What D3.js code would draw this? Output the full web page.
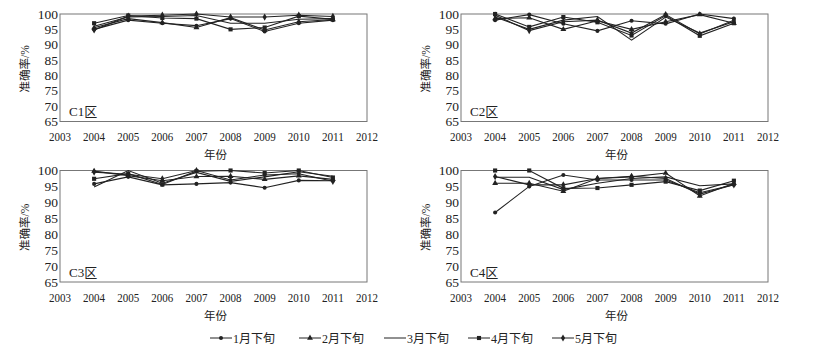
<!DOCTYPE html>
<html>
<head>
<meta charset="utf-8">
<script src="https://cdn.jsdelivr.net/npm/d3@7"></script>
<style>
  body { margin: 0; background: #fff; }
  text { font-family: "Liberation Serif", "Noto Sans CJK SC", serif; fill: #222; }
</style>
</head>
<body>
<svg id="chart" width="835" height="351"></svg>
<script>
let years = [2004, 2005, 2006, 2007, 2008, 2009, 2010, 2011]
let xTicks = [2003, 2004, 2005, 2006, 2007, 2008, 2009, 2010, 2011, 2012]
let yTicks = [65, 70, 75, 80, 85, 90, 95, 100]
let months = ["1月下旬", "2月下旬", "3月下旬", "4月下旬", "5月下旬"]
let regions = ["C1区", "C2区", "C3区", "C4区"]

// one row per month, one value per year
let c1 = [
  [95.0, 98.0, 97.0, 96.2, 98.5, 94.3, 97.0, 98.0],
  [95.5, 98.5, 97.2, 95.6, 98.8, 94.8, 97.5, 98.2],
  [96.0, 99.0, 99.2, 99.5, 97.0, 97.0, 98.3, 98.5],
  [97.0, 99.5, 98.7, 98.5, 95.0, 95.6, 99.3, 98.3],
  [94.8, 99.3, 99.6, 100.0, 99.0, 99.0, 99.6, 99.2]
]
let c2 = [
  [98.0, 99.8, 96.8, 94.5, 97.8, 96.8, 100.0, 98.5],
  [98.5, 98.8, 95.0, 97.8, 95.0, 97.5, 99.8, 97.0],
  [99.0, 95.0, 98.0, 99.2, 91.5, 99.0, 93.8, 97.5],
  [100.0, 95.8, 99.0, 97.3, 93.0, 99.5, 92.9, 97.0],
  [99.6, 94.6, 97.5, 98.0, 93.8, 99.8, 93.5, 98.0]
]
let c3 = [
  [95.8, 98.0, 95.5, 95.8, 96.2, 94.6, 96.9, 96.8],
  [99.8, 98.4, 96.8, 98.1, 98.2, 97.2, 98.3, 97.2],
  [94.8, 100.0, 96.0, 99.4, 96.6, 98.0, 99.6, 98.2],
  [97.4, 99.0, 95.6, 99.8, 100.0, 99.2, 100.0, 97.8],
  [99.5, 98.8, 97.4, 100.0, 97.0, 98.6, 99.0, 96.6]
]
let c4 = [
  [86.8, 95.0, 98.6, 97.0, 97.0, 97.0, 93.0, 95.5],
  [96.0, 96.0, 93.5, 97.5, 98.0, 99.2, 92.0, 96.0],
  [97.9, 97.9, 94.0, 96.0, 97.5, 98.0, 95.2, 95.8],
  [100.0, 100.0, 94.4, 94.5, 95.5, 96.5, 93.7, 96.8],
  [98.1, 95.5, 95.5, 97.5, 98.2, 97.5, 92.6, 95.5]
]

let panels = [
  {name: regions[0], values: c1, left: 60, right: 367, top: 14, bottom: 121.5},
  {name: regions[1], values: c2, left: 461, right: 768, top: 14, bottom: 121.5},
  {name: regions[2], values: c3, left: 60, right: 367, top: 170.5, bottom: 282},
  {name: regions[3], values: c4, left: 461, right: 768, top: 170.5, bottom: 282}
]

let symbols = [d3.symbolCircle, d3.symbolTriangle, null, d3.symbolSquare, d3.symbolDiamond]
let symbolSize = [13, 15, 0, 17, 15]
let ink = "#222"

let svg = d3.select("#chart")

function draw_marker(g, i, x, y) {
  if (!symbols[i]) return
  g.append("path")
    .attr("d", d3.symbol().type(symbols[i]).size(symbolSize[i])())
    .attr("transform", `translate(${x},${y})`)
    .attr("fill", ink)
}

function draw_panel(p) {
  let x = d3.scaleLinear().domain([2003, 2012]).range([p.left, p.right])
  let y = d3.scaleLinear().domain([65, 100]).range([p.bottom, p.top])
  let g = svg.append("g")

  g.append("rect")
    .attr("x", p.left)
    .attr("y", p.top)
    .attr("width", p.right - p.left)
    .attr("height", p.bottom - p.top)
    .attr("fill", "none")
    .attr("stroke", "#777")
    .attr("stroke-width", 1)

  g.selectAll(".ytick")
    .data(yTicks).enter()
    .append("text")
    .attr("x", p.left - 2)
    .attr("y", d => y(d) + 4.5)
    .attr("text-anchor", "end")
    .attr("font-size", 13.5)
    .text(d => d)

  g.selectAll(".xtick")
    .data(xTicks).enter()
    .append("text")
    .attr("x", d => x(d))
    .attr("y", p.bottom + 19.5)
    .attr("text-anchor", "middle")
    .attr("font-size", 13.5)
    .attr("textLength", 22)
    .attr("lengthAdjust", "spacingAndGlyphs")
    .text(d => d)

  g.append("text")
    .attr("x", (p.left + p.right) / 2 + 2)
    .attr("y", p.bottom + 37.5)
    .attr("text-anchor", "middle")
    .attr("font-size", 11.5)
    .text("年份")

  g.append("text")
    .attr("transform", `translate(${p.left - 31},${(p.top + p.bottom) / 2 + 1})rotate(-90)`)
    .attr("text-anchor", "middle")
    .attr("font-size", 11.5)
    .text("准确率/%")

  g.append("text")
    .attr("x", p.left + 9)
    .attr("y", y(66.7))
    .attr("font-size", 13)
    .text(p.name)

  let line = d3.line()
    .x((d, i) => x(years[i]))
    .y(d => y(d))

  p.values.forEach((row, i) => {
    g.append("path")
      .attr("d", line(row))
      .attr("fill", "none")
      .attr("stroke", ink)
      .attr("stroke-width", 1.1)
    row.forEach((v, j) => draw_marker(g, i, x(years[j]), y(v)))
  })
}

function draw_legend() {
  let starts = [210, 299, 384, 468, 552]
  let ly = 338
  let g = svg.append("g")
  months.forEach((m, i) => {
    g.append("line")
      .attr("x1", starts[i]).attr("x2", starts[i] + 22)
      .attr("y1", ly).attr("y2", ly)
      .attr("stroke", ink)
      .attr("stroke-width", 1)
    draw_marker(g, i, starts[i] + 11, ly)
    g.append("text")
      .attr("x", starts[i] + 23)
      .attr("y", ly + 4.5)
      .attr("font-size", 12)
      .text(m)
  })
}

panels.forEach(draw_panel)
draw_legend()
</script>
</body>
</html>
